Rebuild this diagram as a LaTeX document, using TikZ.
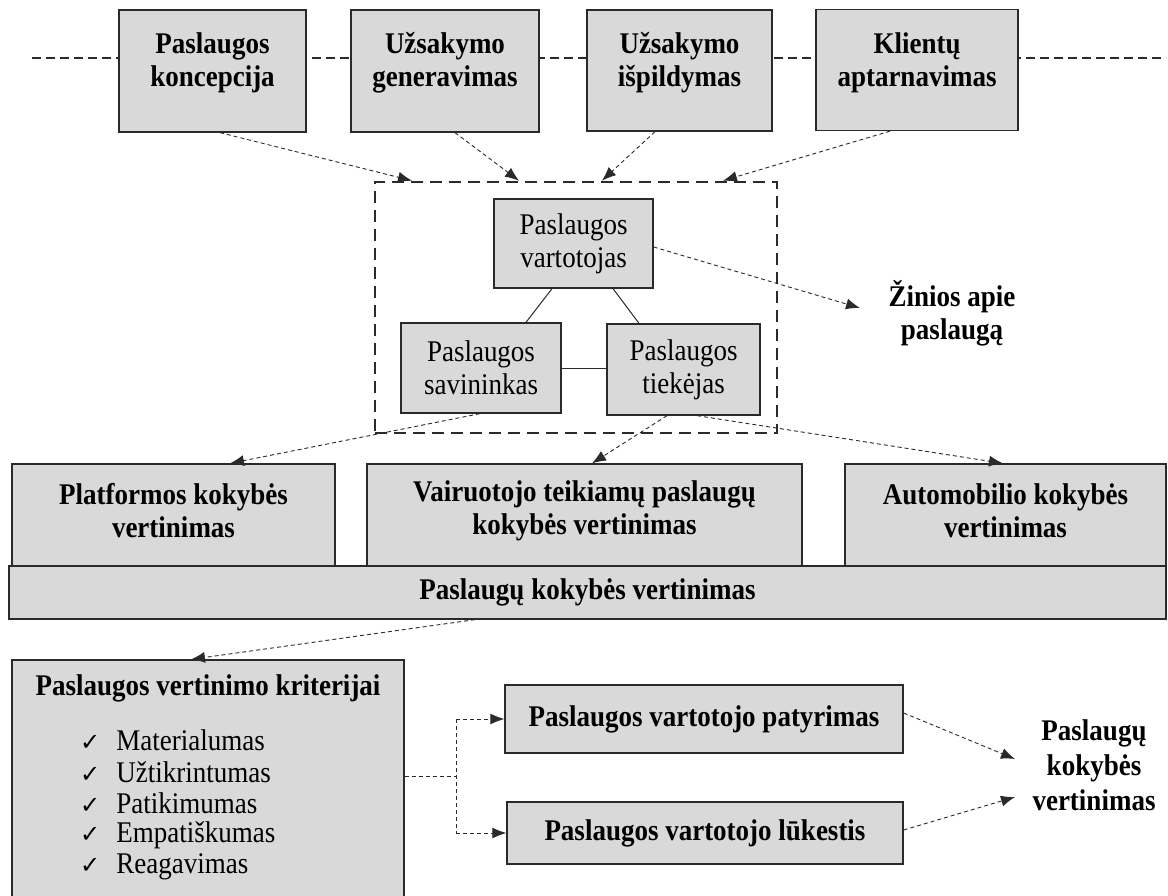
\documentclass[tikz,border=0pt]{standalone}
\usepackage{fontspec}
\setmainfont{Liberation Serif}[FakeStretch=0.9]
\newfontfamily\symf{DejaVu Sans}
\usetikzlibrary{arrows.meta}
\definecolor{boxgray}{HTML}{D9D9D9}
\definecolor{edge}{HTML}{2A2A2A}
\begin{document}
\begin{tikzpicture}[x=1pt,y=-1pt,
  box/.style={draw=edge,line width=1.3pt,fill=boxgray,inner sep=0pt},
  btxt/.style={font=\fontsize{30}{33}\selectfont\bfseries,align=center,inner sep=0pt},
  rtxt/.style={font=\fontsize{30}{33}\selectfont,align=center,inner sep=0pt},
  darr/.style={draw=edge,line width=0.9pt,dash pattern=on 4pt off 3pt,-{Latex[length=14pt,width=11pt]}},
  dline/.style={draw=edge,line width=0.9pt,dash pattern=on 4pt off 3pt},
  sline/.style={draw=edge,line width=1pt},
  topline/.style={draw=edge,line width=1.2pt,dash pattern=on 9pt off 5pt},
  grpbox/.style={draw=edge,line width=2.6pt,dash pattern=on 12pt off 7pt,inner sep=0pt},
  chk/.style={rtxt,anchor=west}]
\clip (0,0) rectangle (1168,896);
\fill[white] (0,0) rectangle (1168,896);

% top dashed line
\coordinate (tl) at (32,58);
\coordinate (tr) at (1166,58);
\draw[topline] (tl) -- (tr);

% top boxes
\node[box,minimum width=187pt,minimum height=122pt] (b1) at (212.5,71) {};
\node[box,minimum width=188pt,minimum height=122pt] (b2) at (445,71) {};
\node[box,minimum width=185pt,minimum height=121pt] (b3) at (679.5,70.5) {};
\node[box,minimum width=202pt,minimum height=121pt] (b4) at (917,70) {};
\node[btxt] (b1t) at ([yshift=8pt]b1.center) {Paslaugos\\koncepcija};
\node[btxt] (b2t) at ([yshift=8pt]b2.center) {Užsakymo\\generavimas};
\node[btxt] (b3t) at ([yshift=7.5pt]b3.center) {Užsakymo\\išpildymas};
\node[btxt] (b4t) at ([yshift=7.5pt]b4.center) {Klientų\\aptarnavimas};

% group
\node[grpbox,minimum width=402pt,minimum height=251pt] (grp) at (576,307.5) {};
\node[box,minimum width=159pt,minimum height=89pt,rtxt] (v) at (573.5,243.5) {Paslaugos\\vartotojas};
\node[box,minimum width=160pt,minimum height=90pt,rtxt] (sav) at (481,368) {Paslaugos\\savininkas};
\node[box,minimum width=153pt,minimum height=91pt,rtxt] (tiek) at (683.5,369.5) {Paslaugos\\tiekėjas};
\draw[sline] ([xshift=-21.5pt]v.south) -- ([xshift=45pt]sav.north);
\draw[sline] ([xshift=39.5pt]v.south) -- ([xshift=-44.5pt]tiek.north);
\draw[sline] (sav.east) -- (tiek.west |- sav.east);

% top arrows into group
\draw[darr] ([xshift=7.5pt]b1.south) -- ([xshift=-164pt]grp.north);
\draw[darr] ([xshift=10pt]b2.south) -- ([xshift=-57pt]grp.north);
\draw[darr] ([xshift=-24.5pt]b3.south) -- ([xshift=26pt]grp.north);
\draw[darr] ([xshift=-27pt]b4.south) -- ([xshift=147pt]grp.north);

% knowledge
\node[btxt] (zin) at (952,313) {Žinios apie\\paslaugą};
\coordinate (zinarr) at (860,308);
\draw[darr] ([yshift=-3.5pt]v.east) -- (zinarr);

% row 2
\node[box,minimum width=323pt,minimum height=102pt] (plat) at (173.5,515) {};
\node[box,minimum width=435pt,minimum height=102pt] (vair) at (584.5,515) {};
\node[box,minimum width=321pt,minimum height=102pt] (auto) at (1005.5,515) {};
\node[btxt] (platt) at ([yshift=4pt]plat.center) {Platformos kokybės\\vertinimas};
\node[btxt] (vairt) at ([yshift=4pt]vair.center) {Vairuotojo teikiamų paslaugų\\kokybės vertinimas};
\node[btxt] (autot) at ([yshift=4pt]auto.center) {Automobilio kokybės\\vertinimas};
\node[box,minimum width=1157pt,minimum height=53pt,btxt] (bar) at (587.5,592.5) {Paslaugų kokybės vertinimas};

\draw[darr] ([xshift=-1pt]sav.south) -- ([xshift=56.5pt]plat.north);
\draw[darr] ([xshift=-16.5pt]tiek.south) -- ([xshift=7.5pt]vair.north);
\draw[darr] ([xshift=13.5pt]tiek.south) -- ([xshift=-2.5pt]auto.north);

% criteria
\node[box,minimum width=392pt,minimum height=245pt] (krit) at (208,782.5) {};
\node[btxt] (kritt) at (208,688) {Paslaugos vertinimo kriterijai};
\node[chk] (k1) at (80,740) {{\symf\fontsize{24}{24}\selectfont ✓}\hspace{16pt}Materialumas};
\node[chk] (k2) at (80,772) {{\symf\fontsize{24}{24}\selectfont ✓}\hspace{16pt}Užtikrintumas};
\node[chk] (k3) at (80,803) {{\symf\fontsize{24}{24}\selectfont ✓}\hspace{16pt}Patikimumas};
\node[chk] (k4) at (80,835) {{\symf\fontsize{24}{24}\selectfont ✓}\hspace{16pt}Empatiškumas};
\node[chk] (k5) at (80,867) {{\symf\fontsize{24}{24}\selectfont ✓}\hspace{16pt}Reagavimas};
\draw[darr] ([xshift=-112.5pt]bar.south) -- ([xshift=-17pt]krit.north);

% experience / expectation
\node[box,minimum width=398pt,minimum height=68pt,btxt] (pat) at (704,719) {Paslaugos vartotojo patyrimas};
\node[box,minimum width=396pt,minimum height=62pt,btxt] (luk) at (705,833) {Paslaugos vartotojo lūkestis};
\coordinate (hub) at (456,776);
\coordinate (hubt) at (456,719);
\coordinate (hubb) at (456,833);
\draw[dline] (krit.east |- hub) -- (hub);
\draw[dline] (hubt) -- (hubb);
\draw[darr] (hubt) -- (pat.west);
\draw[darr] (hubb) -- (luk.west);

\node[btxt,font=\fontsize{30}{35}\selectfont\bfseries] (res) at (1094,765) {Paslaugų\\kokybės\\vertinimas};
\coordinate (resa) at (1015,759);
\coordinate (resb) at (1015,797);
\draw[darr] ([yshift=6pt]pat.east) -- (resa);
\draw[darr] ([yshift=3pt]luk.east) -- (resb);
\end{tikzpicture}
\end{document}
